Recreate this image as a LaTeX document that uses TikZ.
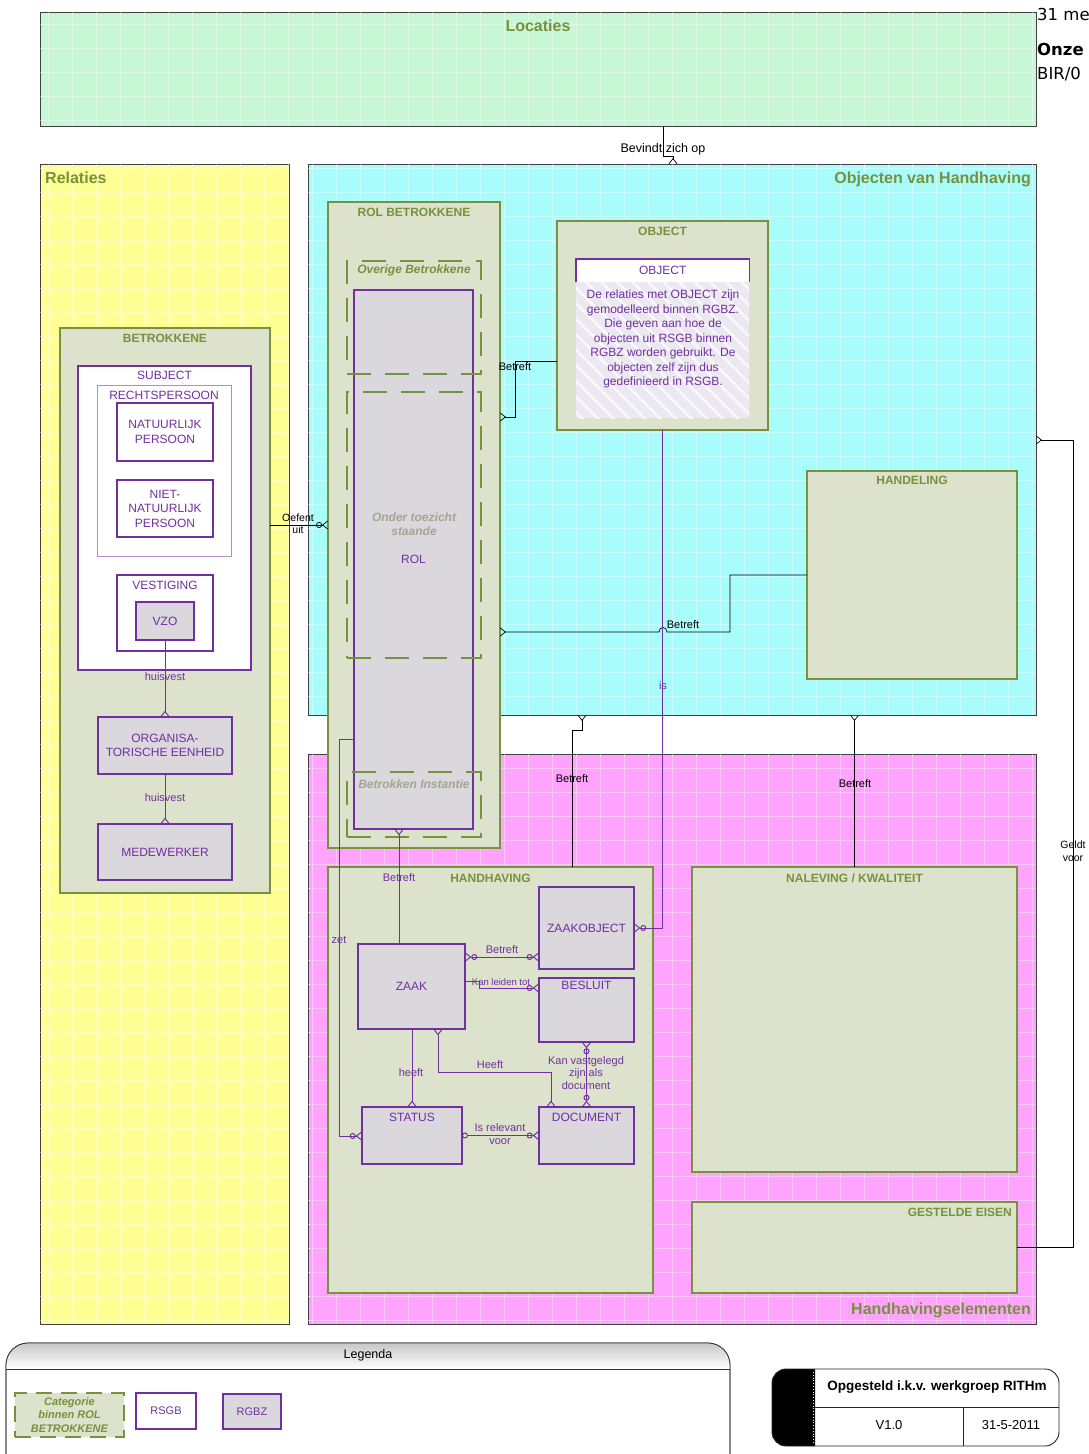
\documentclass[tikz,border=0pt]{standalone}
\usepackage{fontspec}
\setmainfont{Liberation Sans}
\newfontfamily\headfont{DejaVu Sans}
\usetikzlibrary{arrows.meta, positioning, calc, patterns.meta}
\definecolor{LocGreen}{HTML}{C8F7D6}
\definecolor{RelYellow}{HTML}{FFFF94}
\definecolor{ObjCyan}{HTML}{A8FCFC}
\definecolor{HhPink}{HTML}{FFA3FF}
\definecolor{Sage}{HTML}{DDE2CC}
\definecolor{Olive}{HTML}{76923C}
\definecolor{RitPurple}{HTML}{7030A0}
\definecolor{EntGrey}{HTML}{DAD7DD}
\definecolor{Lavender}{HTML}{ECE8F1}
\definecolor{GhostText}{HTML}{A2A68E}

\tikzset{
  zone/.style={draw=black!75, line width=0.6pt, anchor=north west, inner sep=0pt, outer sep=0pt},
  texture/.style={white, line width=0.5pt, opacity=0.4, step=24pt},
  group/.style={draw=Olive, line width=1.2pt, fill=Sage, anchor=north west, inner sep=0pt, outer sep=0pt},
  ent/.style={draw=RitPurple, line width=1.3pt, fill=EntGrey, anchor=north west, inner sep=0pt, outer sep=0pt,
    text=RitPurple, font=\fontsize{12}{14.5}\selectfont, align=center},
  rsgb/.style={ent, fill=white},
  catbox/.style={draw=Olive, line width=1.6pt, dash pattern=on 24pt off 14pt, anchor=north west, inner sep=0pt, outer sep=0pt},
  zonetitle/.style={text=Olive, font=\fontsize{16}{18}\selectfont\bfseries, inner sep=0pt},
  grouptitle/.style={text=Olive, font=\fontsize{12}{14}\selectfont\bfseries, inner sep=0pt},
  enttitle/.style={text=RitPurple, font=\fontsize{12}{14}\selectfont, inner sep=0pt},
  ghost/.style={text=GhostText, font=\fontsize{12}{14}\selectfont\bfseries\itshape, align=center, inner sep=0pt},
  rel/.style={black, line width=0.7pt},
  prel/.style={RitPurple, line width=1pt},
  rlab/.style={font=\fontsize{11}{12.5}\selectfont, inner sep=0pt, align=center},
  plab/.style={rlab, text=RitPurple},
  many/.style={-{Straight Barb[reversed, length=5pt, width=8pt]}},
  manystart/.style={{Straight Barb[reversed, length=5pt, width=8pt]}-},
  manyboth/.style={{Straight Barb[reversed, length=5pt, width=8pt]}-{Straight Barb[reversed, length=5pt, width=8pt]}},
  zeromany/.style={-{Circle[open, length=6pt, width=6pt] Straight Barb[reversed, length=5pt, width=8pt]}},
  zeromanyboth/.style={{Straight Barb[reversed, length=5pt, width=8pt] Circle[open, length=6pt, width=6pt]}-{Circle[open, length=6pt, width=6pt] Straight Barb[reversed, length=5pt, width=8pt]}},
  zerozeromany/.style={{Circle[open, length=6pt, width=6pt]}-{Circle[open, length=6pt, width=6pt] Straight Barb[reversed, length=5pt, width=8pt]}}
}

\begin{document}
\begin{tikzpicture}[x=1pt, y=-1pt]
\useasboundingbox (0,0) rectangle (1088,1454);

% zones
\node[zone, fill=LocGreen, minimum width=996pt, minimum height=114pt] (loc) at (40,12) {};
\draw[texture] (loc.south west) grid (loc.north east);
\node[zone, fill=RelYellow, minimum width=249pt, minimum height=1160pt] (relz) at (40,164) {};
\draw[texture] (relz.south west) grid (relz.north east);
\node[zone, fill=ObjCyan, minimum width=728pt, minimum height=551pt] (objz) at (308,164) {};
\draw[texture] (objz.south west) grid (objz.north east);
\node[zone, fill=HhPink, minimum width=728pt, minimum height=570pt] (hhz) at (308,754) {};
\draw[texture] (hhz.south west) grid (hhz.north east);

\node[zonetitle, below=8pt of loc.north] (loct) {Locaties};
\node[zonetitle, anchor=north west] (relt) at ([xshift=5pt, yshift=-8pt]relz.north west) {Relaties};
\node[zonetitle, anchor=north east] (objt) at ([xshift=-5pt, yshift=-8pt]objz.north east) {Objecten van Handhaving};
\node[zonetitle, anchor=south east] (hht) at ([xshift=-5pt, yshift=6pt]hhz.south east) {Handhavingselementen};

% afgesneden koptekst
\node[font=\headfont\fontsize{16.5}{20}\selectfont, anchor=base west, inner sep=0pt] (hdr1) at (1037,20) {31 me};
\node[font=\headfont\fontsize{16.5}{20}\selectfont\bfseries, anchor=base west, inner sep=0pt] (hdr2) at (1037,55) {Onze};
\node[font=\headfont\fontsize{16.5}{20}\selectfont, anchor=base west, inner sep=0pt] (hdr3) at (1037,79) {BIR/0};

% betrokkene
\node[group, minimum width=210pt, minimum height=565pt] (betr) at (60,328) {};
\node[grouptitle, below=6pt of betr.north] (betrt) {BETROKKENE};
\node[rsgb, minimum width=173pt, minimum height=304pt] (subj) at (78,366) {};
\node[enttitle, below=5pt of subj.north] (subjt) {SUBJECT};
\node[rsgb, draw=RitPurple!55, line width=1pt, minimum width=134pt, minimum height=171pt] (rechts) at (97,385) {};
\node[enttitle, below=6pt of rechts.north] (rechtst) {RECHTSPERSOON};
\node[rsgb, minimum width=96pt, minimum height=58pt] (natp) at (117,403) {NATUURLIJK\\PERSOON};
\node[rsgb, minimum width=96pt, minimum height=57pt] (nnatp) at (117,480) {NIET-\\NATUURLIJK\\PERSOON};
\node[rsgb, minimum width=96pt, minimum height=76pt] (vest) at (117,575) {};
\node[enttitle, below=6pt of vest.north] (vestt) {VESTIGING};
\node[ent, minimum width=58pt, minimum height=38pt] (vzo) at (136,602) {VZO};
\node[ent, minimum width=134pt, minimum height=57pt] (org) at (98,717) {ORGANISA-\\TORISCHE EENHEID};
\node[ent, minimum width=134pt, minimum height=56pt] (mdw) at (98,824) {MEDEWERKER};

% rol betrokkene
\node[group, minimum width=172pt, minimum height=646pt] (rolb) at (328,202) {};
\node[grouptitle, below=6pt of rolb.north] (rolbt) {ROL BETROKKENE};
\node[ent, minimum width=119pt, minimum height=539pt] (rol) at (354,290) {ROL};
\node[catbox, minimum width=134pt, minimum height=113pt] (ovb) at (347,261) {};
\node[catbox, minimum width=134pt, minimum height=266pt] (ots) at (347,392) {};
\node[catbox, minimum width=134pt, minimum height=65pt] (bin) at (347,772) {};
\node[ghost, text=Olive] (ovbt) at (414,270) {Overige Betrokkene};
\node[ghost] (otst) at (414,524) {Onder toezicht\\staande};
\node[ghost] (bint) at (414,784) {Betrokken Instantie};

% object
\node[group, minimum width=211pt, minimum height=209pt] (objg) at (557,221) {};
\node[grouptitle, below=6pt of objg.north] (objgt) {OBJECT};
\node[anchor=north west, inner sep=0pt, minimum width=173pt, minimum height=136pt, fill=Lavender,
  postaction={pattern={Lines[angle=-45, distance=11pt, line width=2.5pt]}, pattern color=white!70!Lavender}] (objb) at (576,282) {};
\node[anchor=north west, inner sep=0pt, minimum width=173pt, minimum height=23pt, fill=white, text=RitPurple,
  font=\fontsize{12}{14}\selectfont] (objh) at (576,259) {OBJECT};
\draw[RitPurple, line width=1.3pt] (objh.south west) -- (objh.north west) -- (objh.north east) -- (objh.south east);
\node[text=RitPurple, font=\fontsize{12}{14.5}\selectfont, align=center, anchor=north, inner sep=0pt] (objtxt) at (663,290)
  {De relaties met OBJECT zijn\\gemodelleerd binnen RGBZ.\\Die geven aan hoe de\\objecten uit RSGB binnen\\RGBZ worden gebruikt. De\\objecten zelf zijn dus\\gedefinieerd in RSGB.};

% handeling
\node[group, minimum width=210pt, minimum height=208pt] (hand) at (807,471) {};
\node[grouptitle, below=5pt of hand.north] (handt) {HANDELING};

% handhaving
\node[group, minimum width=325pt, minimum height=426pt] (hhg) at (328,867) {};
\node[grouptitle, below=7pt of hhg.north] (hhgt) {HANDHAVING};
\node[ent, minimum width=95pt, minimum height=82pt] (zobj) at (539,887) {ZAAKOBJECT};
\node[ent, minimum width=107pt, minimum height=85pt] (zaak) at (358,944) {ZAAK};
\node[ent, minimum width=95pt, minimum height=64pt] (bes) at (539,978) {};
\node[enttitle, below=3pt of bes.north] (best) {BESLUIT};
\node[ent, minimum width=100pt, minimum height=57pt] (stat) at (362,1107) {};
\node[enttitle, below=6pt of stat.north] (statt) {STATUS};
\node[ent, minimum width=95pt, minimum height=57pt] (doc) at (539,1107) {};
\node[enttitle, below=6pt of doc.north] (doct) {DOCUMENT};

% naleving, eisen
\node[group, minimum width=325pt, minimum height=305pt] (nal) at (692,867) {};
\node[grouptitle, below=7pt of nal.north] (nalt) {NALEVING / KWALITEIT};
\node[group, minimum width=325pt, minimum height=91pt] (eis) at (692,1202) {};
\node[grouptitle, anchor=north east] (eist) at ([xshift=-5pt, yshift=-6pt]eis.north east) {GESTELDE EISEN};

% relaties (zwart)
\draw[rel, many] (loc.south -| 663,0) -- (663,156) -- (673,156) -- (objz.north -| 673,0);
\node[rlab, font=\fontsize{12.5}{14}\selectfont] (lbev) at (663,149) {Bevindt zich op};
\draw[rel, zeromany] (betr.east |- 0,525) -- (rolb.west |- 0,525);
\node[rlab, font=\fontsize{10.5}{12}\selectfont] (loef) at (298,524) {Oefent\\uit};
\draw[rel, many] (objg.west |- 0,361) -- (515,361) -- (515,417) -- (rolb.east |- 0,417);
\node[rlab] (lobj) at (515,367) {Betreft};
\draw[rel, many] (hand.west |- 0,575) -- (730,575) -- (730,632) -- (667,632)
  .. controls (667,626) and (659,626) .. (659,632) -- (rolb.east |- 0,632);
\node[rlab] (lhand) at (683,625) {Betreft};
\draw[rel, manystart] (objz.south -| 582,0) -- (582,730) -- (572,730) -- (hhg.north -| 572,0);
\node[rlab] (lhh) at (572,779) {Betreft};
\draw[rel, manystart] (objz.south -| nal.north) -- (nal.north);
\node[rlab] (lnal) at (855,784) {Betreft};
\draw[rel, many] (eis.east |- 0,1247) -- (1073,1247) -- (1073,440) -- (objz.east |- 0,440);
\node[rlab, font=\fontsize{10.5}{12.5}\selectfont] (lgeldt) at (1073,851) {Geldt\\voor};

% relaties (paars)
\draw[prel, zeromany] (objg.south) -- (objg.south |- zobj.east) -- (zobj.east);
\node[plab] (lis) at (663,686) {is};
\draw[prel, many] (vzo.south) -- (org.north);
\node[plab] (lhuis1) at (165,677) {huisvest};
\draw[prel, many] (org.south) -- (mdw.north);
\node[plab] (lhuis2) at (165,798) {huisvest};
\draw[prel, manystart] (rol.south -| 399,0) -- (zaak.north -| 399,0);
\node[plab] (lrol) at (399,878) {Betreft};
\draw[prel, zeromany] (rol.west |- 0,739) -- (339,739) -- (339,1136) -- (stat.west |- 0,1136);
\node[plab] (lzet) at (339,940) {zet};
\draw[prel, zeromanyboth] (zaak.east |- 0,957) -- (zobj.west |- 0,957);
\node[plab] (lzobj) at (502,950) {Betreft};
\draw[prel, zeromany] (zaak.east |- 0,981) -- (479,981) -- (479,988) -- (bes.west |- 0,988);
\node[plab, font=\fontsize{9.5}{11}\selectfont] (lbes) at (501,982) {Kan leiden tot};
\draw[prel, many] (zaak.south -| stat.north) -- (stat.north);
\node[plab] (lstat) at (411,1073) {heeft};
\draw[prel, manyboth] (zaak.south -| 438,0) -- (438,1072) -- (551,1072) -- (doc.north -| 551,0);
\node[plab] (ldoc) at (490,1065) {Heeft};
\draw[prel, zeromanyboth] (bes.south) -- (bes.south |- doc.north);
\node[plab] (lvast) at (586,1073) {Kan vastgelegd\\zijn als\\document};
\draw[prel, zerozeromany] (stat.east) -- (doc.west);
\node[plab] (lrelev) at (500,1134) {Is relevant\\voor};

% legenda
\draw[black!80, line width=0.8pt, fill=white, rounded corners=22pt] (6,1480) -- (6,1343) -- (730,1343) -- (730,1480);
\shade[top color=black!22, bottom color=white] (6,1369) [rounded corners=22pt] -- (6,1343) -- (730,1343) [sharp corners] -- (730,1369) -- cycle;
\draw[black!80, line width=0.8pt, rounded corners=22pt] (6,1480) -- (6,1343) -- (730,1343) -- (730,1480);
\draw[black!80, line width=0.8pt] (6,1369) -- (730,1369);
\node[font=\fontsize{12.5}{14}\selectfont, inner sep=0pt] (legt) at (368,1355) {Legenda};
\node[catbox, fill=Sage, dash pattern=on 16pt off 9pt, minimum width=109pt, minimum height=44pt,
  text=Olive, font=\fontsize{11}{13.5}\selectfont\bfseries\itshape, align=center] (legcat) at (15,1393) {Categorie\\binnen ROL\\BETROKKENE};
\node[rsgb, font=\fontsize{11}{13}\selectfont, minimum width=60pt, minimum height=36pt] (legrsgb) at (136,1393) {RSGB};
\node[ent, font=\fontsize{11}{13}\selectfont, minimum width=58pt, minimum height=35pt] (legrgbz) at (223,1394) {RGBZ};

% titelblok
\fill[black] (815,1446) [rounded corners=14pt] -- (772,1446) -- (772,1369) [sharp corners] -- (815,1369) -- cycle;
\draw[white, line width=0.8pt, dotted] (813,1372) -- (813,1444);
\draw[black!85, line width=0.9pt, rounded corners=14pt] (772,1369) rectangle (1059,1446);
\draw[black!85, line width=0.9pt] (815,1407) -- (1059,1407);
\draw[black!85, line width=0.9pt] (963,1407) -- (963,1446);
\node[font=\fontsize{13.5}{15}\selectfont\bfseries, inner sep=0pt] (tbt) at (937,1387) {Opgesteld i.k.v. werkgroep RITHm};
\node[font=\fontsize{13}{15}\selectfont, inner sep=0pt] (tbv) at (889,1425) {V1.0};
\node[font=\fontsize{13}{15}\selectfont, inner sep=0pt] (tbd) at (1011,1425) {31-5-2011};
\end{tikzpicture}
\end{document}
